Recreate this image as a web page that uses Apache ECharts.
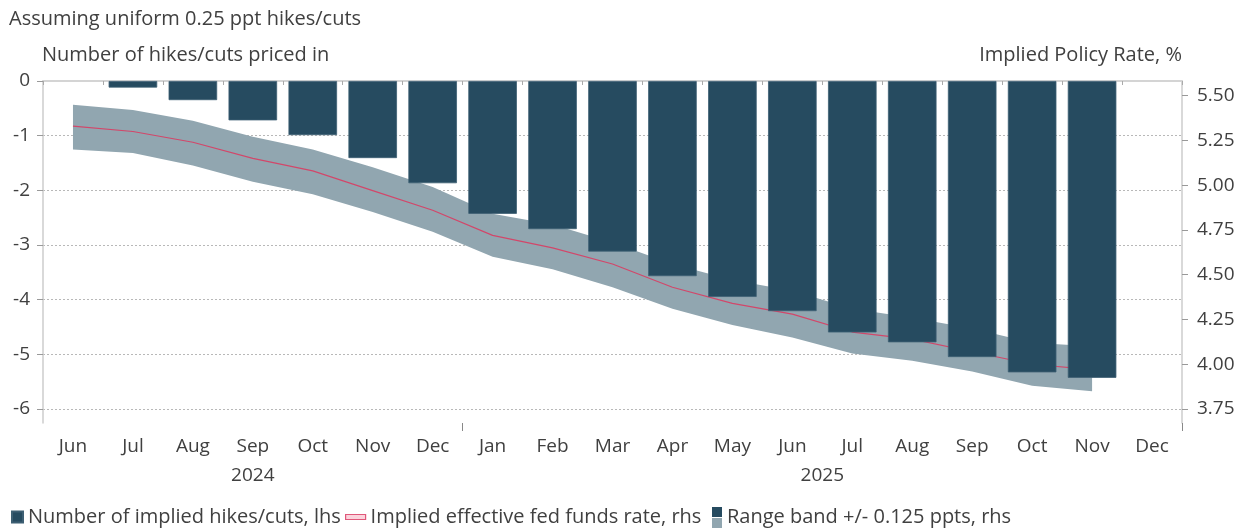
<!DOCTYPE html>
<html>
<head>
<meta charset="utf-8">
<script src="https://cdn.jsdelivr.net/npm/echarts@6/dist/echarts.min.js"></script>
<style>
html,body{margin:0;padding:0;background:#fff;}
#c{width:1248px;height:529px;}
</style>
</head>
<body>
<div id="c"></div>
<script>
// ---- data ----
const months = ['Jun','Jul','Aug','Sep','Oct','Nov','Dec','Jan','Feb','Mar','Apr','May','Jun','Jul','Aug','Sep','Oct','Nov','Dec'];
const yearLabels = ['2024','2025'];
const hikesCuts = [null,-0.12,-0.35,-0.72,-0.99,-1.41,-1.87,-2.43,-2.71,-3.12,-3.57,-3.95,-4.21,-4.60,-4.78,-5.05,-5.33,-5.43,null];
const impliedRate = [5.33,5.30,5.24,5.15,5.08,4.97,4.86,4.72,4.65,4.56,4.43,4.34,4.28,4.18,4.14,4.07,4.00,3.97,null];
const bandLow  = [5.20,5.18,5.11,5.02,4.95,4.85,4.74,4.60,4.53,4.43,4.31,4.22,4.15,4.06,4.02,3.96,3.88,3.85,null];
const bandHigh = [5.45,5.42,5.36,5.27,5.20,5.10,4.99,4.84,4.78,4.68,4.56,4.47,4.41,4.31,4.26,4.20,4.12,4.10,null];
const leftTicks = [-6,-5,-4,-3,-2,-1,0];
const rightTicks = [3.75,4.00,4.25,4.50,4.75,5.00,5.25,5.50];

const nameBars = 'Number of implied hikes/cuts, lhs';
const nameRate = 'Implied effective fed funds rate, rhs';
const nameBand = 'Range band +/- 0.125 ppts, rhs';

const FONT = 'Open Sans';
const FS = 20;
const AFS = 19;
const TXT = '#404040';
const bandWidth = bandHigh.map((h, i) => (h == null || bandLow[i] == null) ? null : +(h - bandLow[i]).toFixed(3));

const chart = echarts.init(document.getElementById('c'), null, {renderer: 'canvas'});
chart.setOption({
  animation: false,
  textStyle: {fontFamily: FONT, color: TXT},
  grid: {left: 43, right: 66, top: 81, bottom: 106, containLabel: false},
  title: [
    {text: 'Assuming uniform 0.25 ppt hikes/cuts', left: 9, top: 9, padding: 0,
     textStyle: {fontFamily: FONT, fontSize: FS, fontWeight: 'normal', color: TXT}},
    {text: 'Number of hikes/cuts priced in', left: 42, top: 45, padding: 0,
     textStyle: {fontFamily: FONT, fontSize: FS, fontWeight: 'normal', color: TXT}},
    {text: 'Implied Policy Rate, %', right: 66, top: 45, padding: 0,
     textStyle: {fontFamily: FONT, fontSize: FS, fontWeight: 'normal', color: TXT}}
  ],
  legend: [
    {data: [{name: nameBars, icon: 'rect', itemStyle: {color: '#264b60'}}],
     left: 11, top: 507, padding: 0, itemWidth: 11, itemHeight: 11, itemGap: 0,
     selectedMode: false, textStyle: {fontFamily: FONT, fontSize: FS, color: TXT}},
    {data: [{name: nameRate, icon: 'rect', itemStyle: {color: '#fbd3dc', borderColor: '#e0587a', borderWidth: 1.2}}],
     left: 345, top: 507, padding: 0, itemWidth: 20, itemHeight: 5, itemGap: 0,
     selectedMode: false, textStyle: {fontFamily: FONT, fontSize: FS, color: TXT}},
    {data: [{name: nameBand, icon: 'rect', itemStyle: {color: '#91a6b0', opacity: 1}}],
     left: 712, top: 507, padding: 0, itemWidth: 10, itemHeight: 21, itemGap: 0,
     selectedMode: false, textStyle: {fontFamily: FONT, fontSize: FS, color: TXT}}
  ],
  xAxis: [
    {type: 'category', data: months, boundaryGap: true, gridIndex: 0,
     axisLine: {show: true, lineStyle: {color: '#d4d4d4', width: 2}},
     axisTick: {show: true, interval: 0, length: 4, lineStyle: {color: '#aaaaaa'}},
     axisLabel: {interval: 0, margin: 14, fontSize: AFS, color: TXT, fontFamily: FONT},
     splitLine: {show: false}},
    {type: 'value', min: 0, max: months.length, gridIndex: 0, position: 'bottom',
     axisLine: {show: false},
     axisTick: {show: true, customValues: [7, 19], length: 8, lineStyle: {color: '#888888'}},
     axisLabel: {show: true, customValues: [3.5, 13], margin: 43, fontSize: AFS, color: TXT, fontFamily: FONT,
       formatter: v => (v < 7 ? yearLabels[0] : yearLabels[1])},
     splitLine: {show: false}}
  ],
  yAxis: [
    {type: 'value', min: -6.256, max: 0, position: 'left',
     axisLine: {show: true, lineStyle: {color: '#cccccc', width: 1.5}},
     axisTick: {show: true, customValues: leftTicks, length: 6, lineStyle: {color: '#999999'}},
     axisLabel: {customValues: leftTicks, margin: 13, fontSize: AFS, color: TXT, fontFamily: FONT,
       formatter: v => String(v)},
     splitLine: {show: true, lineStyle: {color: '#b8b8b8', type: [2, 2], width: 1}}},
    {type: 'value', min: 3.672, max: 5.582, position: 'right',
     axisLine: {show: true, lineStyle: {color: '#cccccc', width: 1.5}},
     axisTick: {show: true, customValues: rightTicks, length: 6, lineStyle: {color: '#999999'}},
     axisLabel: {customValues: rightTicks, margin: 15, fontSize: AFS, color: TXT, fontFamily: FONT,
       formatter: v => v.toFixed(2)},
     splitLine: {show: false}}
  ],
  series: [
    {name: 'bandBase', type: 'line', xAxisIndex: 0, yAxisIndex: 1, data: bandLow, stack: 'band',
     symbol: 'none', lineStyle: {opacity: 0}, itemStyle: {color: '#91a6b0'}, z: 1, silent: true},
    {name: nameBand, type: 'line', xAxisIndex: 0, yAxisIndex: 1, data: bandWidth, stack: 'band',
     symbol: 'none', lineStyle: {opacity: 0}, areaStyle: {color: '#91a6b0', opacity: 1},
     itemStyle: {color: '#91a6b0'}, z: 1, silent: true},
    {name: nameRate, type: 'line', xAxisIndex: 0, yAxisIndex: 1, data: impliedRate,
     symbol: 'none', lineStyle: {color: '#d2476a', width: 1.2}, itemStyle: {color: '#d2476a'}, z: 2},
    {name: nameBars, type: 'bar', xAxisIndex: 0, yAxisIndex: 0, data: hikesCuts,
     barWidth: '81%', itemStyle: {color: '#264b60', borderColor: '#3d5f73', borderWidth: 0.8}, z: 3}
  ],
  graphic: [
    {type: 'rect', shape: {x: 712, y: 507, width: 10, height: 10}, style: {fill: '#264b60'}, z: 100},
    {type: 'rect', shape: {x: 712, y: 517, width: 10, height: 1}, style: {fill: '#ffffff'}, z: 100}
  ]
});
</script>
</body>
</html>
